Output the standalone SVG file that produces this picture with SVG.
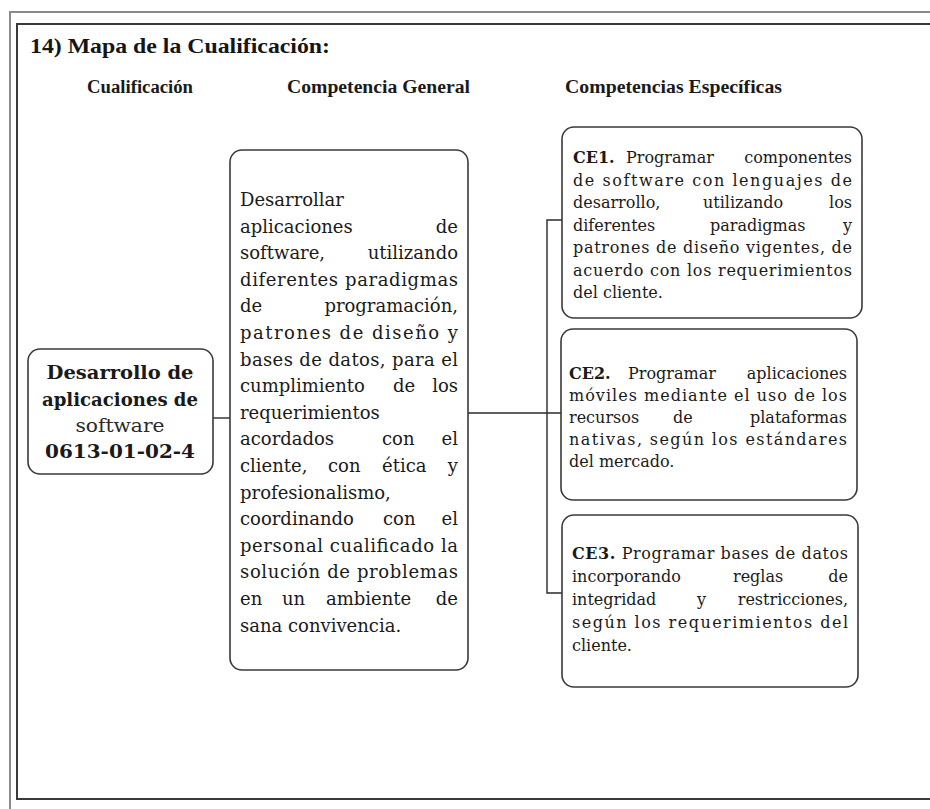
<svg xmlns="http://www.w3.org/2000/svg" width="930" height="809" viewBox="0 0 930 809">
<style>
.frame-out{fill:none;stroke:#8a8a8a;stroke-width:2}
.frame-in{fill:none;stroke:#3a3a3a;stroke-width:2}
.box{fill:#ffffff;stroke:#3a3a3a;stroke-width:1.6}
.conn{fill:none;stroke:#2a2a2a;stroke-width:1.4}
.title{font-family:"Liberation Serif","Times New Roman",serif;font-weight:bold;font-size:22px;fill:#151515}
.hdr{font-family:"Liberation Serif","Times New Roman",serif;font-weight:bold;font-size:18px;fill:#1a1a1a}
.q{font-family:"DejaVu Serif","Liberation Serif",serif;font-weight:bold;font-size:18px;fill:#1a1a1a;text-anchor:middle}
.qn{font-family:"DejaVu Serif","Liberation Serif",serif;font-size:18px;fill:#2a2a2a;text-anchor:middle}
.g{font-family:"DejaVu Serif","Liberation Serif",serif;font-size:18px;fill:#1a1a1a}
.s{font-family:"DejaVu Serif","Liberation Serif",serif;font-size:16px;fill:#1a1a1a}
.e{text-anchor:end}
.b{font-weight:bold}
</style>
<rect width="930" height="809" fill="#ffffff"/>
<path class="frame-out" d="M10,809 V12 H930"/>
<path class="frame-in" d="M930,24 H17 V799 H930"/>
<text class="title" x="30" y="53" textLength="300" lengthAdjust="spacingAndGlyphs">14) Mapa de la Cualificación:</text>
<text class="hdr" x="87" y="93" textLength="106" lengthAdjust="spacingAndGlyphs">Cualificación</text>
<text class="hdr" x="287" y="93" textLength="183" lengthAdjust="spacingAndGlyphs">Competencia General</text>
<text class="hdr" x="565" y="93" textLength="217" lengthAdjust="spacingAndGlyphs">Competencias Específicas</text>

<g id="connectors">
<path class="conn" d="M213,418 H230"/>
<path class="conn" d="M468,413 H561"/>
<path class="conn" d="M562,220 H547 V593 H562"/>
</g>

<g id="cualificacion">
<rect class="box" x="28" y="349" width="185" height="125" rx="12"/>
<text class="q" x="120" y="379" textLength="147" lengthAdjust="spacingAndGlyphs">Desarrollo de</text>
<text class="q" x="120" y="406" textLength="156" lengthAdjust="spacingAndGlyphs">aplicaciones de</text>
<text class="qn" x="120" y="432" textLength="89" lengthAdjust="spacingAndGlyphs">software</text>
<text class="q" x="120" y="458" textLength="150" lengthAdjust="spacingAndGlyphs">0613-01-02-4</text>
</g>

<g id="competencia-general">
<rect class="box" x="230" y="150" width="238" height="520" rx="12"/>
<text class="g" x="240" y="206">Desarrollar</text>
<text class="g" x="240" y="232.6">aplicaciones</text><text class="g e" x="458" y="232.6">de</text>
<text class="g" x="240" y="259.2">software,</text><text class="g e" x="458" y="259.2">utilizando</text>
<text class="g" x="240" y="285.8" textLength="218" lengthAdjust="spacing">diferentes paradigmas</text>
<text class="g" x="240" y="312.4">de</text><text class="g e" x="458" y="312.4">programación,</text>
<text class="g" x="240" y="339" textLength="218" lengthAdjust="spacing">patrones de diseño y</text>
<text class="g" x="240" y="365.6" textLength="218" lengthAdjust="spacing">bases de datos, para el</text>
<text class="g" x="240" y="392.2">cumplimiento</text><text class="g" x="393" y="392.2">de</text><text class="g e" x="458" y="392.2">los</text>
<text class="g" x="240" y="418.8">requerimientos</text>
<text class="g" x="240" y="445.4">acordados</text><text class="g" x="382" y="445.4">con</text><text class="g e" x="458" y="445.4">el</text>
<text class="g" x="240" y="472">cliente,</text><text class="g" x="328" y="472">con</text><text class="g" x="382" y="472">ética</text><text class="g e" x="458" y="472">y</text>
<text class="g" x="240" y="498.6">profesionalismo,</text>
<text class="g" x="240" y="525.2">coordinando</text><text class="g" x="383" y="525.2">con</text><text class="g e" x="458" y="525.2">el</text>
<text class="g" x="240" y="551.8" textLength="218" lengthAdjust="spacing">personal cualificado la</text>
<text class="g" x="240" y="578.4" textLength="218" lengthAdjust="spacing">solución de problemas</text>
<text class="g" x="240" y="605">en</text><text class="g" x="282" y="605">un</text><text class="g" x="326" y="605">ambiente</text><text class="g e" x="458" y="605">de</text>
<text class="g" x="240" y="631.6">sana convivencia.</text>
</g>

<g id="ce1">
<rect class="box" x="562" y="127" width="300" height="191" rx="12"/>
<text class="s b" x="573" y="163">CE1.</text><text class="s" x="626" y="163">Programar</text><text class="s e" x="852" y="163">componentes</text>
<text class="s" x="573" y="185.5" textLength="279" lengthAdjust="spacing">de software con lenguajes de</text>
<text class="s" x="573" y="208">desarrollo,</text><text class="s" x="703" y="208">utilizando</text><text class="s e" x="852" y="208">los</text>
<text class="s" x="573" y="230.5">diferentes</text><text class="s" x="710" y="230.5">paradigmas</text><text class="s e" x="852" y="230.5">y</text>
<text class="s" x="573" y="253" textLength="279" lengthAdjust="spacing">patrones de diseño vigentes, de</text>
<text class="s" x="573" y="275.5" textLength="279" lengthAdjust="spacing">acuerdo con los requerimientos</text>
<text class="s" x="573" y="298">del cliente.</text>
</g>

<g id="ce2">
<rect class="box" x="561" y="329" width="296" height="171" rx="12"/>
<text class="s b" x="569" y="379">CE2.</text><text class="s" x="628" y="379">Programar</text><text class="s e" x="847" y="379">aplicaciones</text>
<text class="s" x="569" y="401" textLength="278" lengthAdjust="spacing">móviles mediante el uso de los</text>
<text class="s" x="569" y="423">recursos</text><text class="s" x="673" y="423">de</text><text class="s e" x="847" y="423">plataformas</text>
<text class="s" x="569" y="445" textLength="278" lengthAdjust="spacing">nativas, según los estándares</text>
<text class="s" x="569" y="467">del mercado.</text>
</g>

<g id="ce3">
<rect class="box" x="562" y="515" width="296" height="172" rx="12"/>
<text class="s" x="572" y="559" textLength="276" lengthAdjust="spacing"><tspan class="b">CE3.</tspan> Programar bases de datos</text>
<text class="s" x="572" y="582">incorporando</text><text class="s" x="733" y="582">reglas</text><text class="s e" x="848" y="582">de</text>
<text class="s" x="572" y="605">integridad</text><text class="s" x="697" y="605">y</text><text class="s e" x="848" y="605">restricciones,</text>
<text class="s" x="572" y="628" textLength="276" lengthAdjust="spacing">según los requerimientos del</text>
<text class="s" x="572" y="651">cliente.</text>
</g>
</svg>
